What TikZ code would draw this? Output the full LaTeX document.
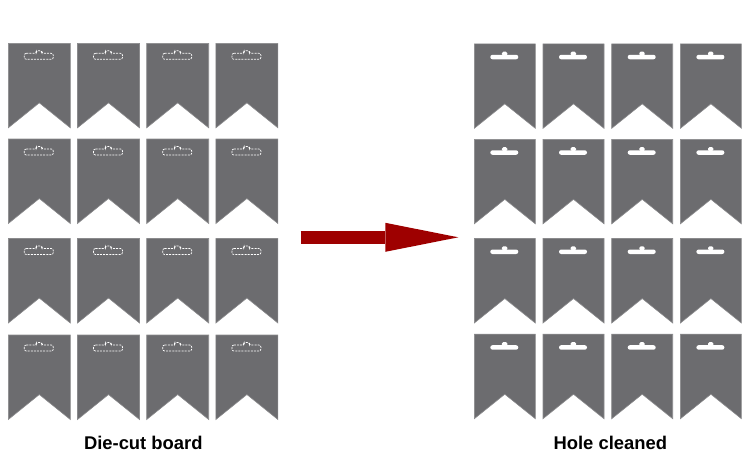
\documentclass[tikz,border=0pt]{standalone}
\usepackage{fontspec}
\setmainfont{Liberation Sans}
\usepackage{tikz}
\usetikzlibrary{arrows.meta}
\definecolor{cBlank}{HTML}{6C6C6F}
\definecolor{cEdge}{HTML}{8A8A8C}
\definecolor{cArrow}{HTML}{9E0000}
\tikzset{
  blankbody/.style={fill=cBlank,draw=cEdge,line width=0.6pt},
  cutslot/.style={draw=white,dashed,dash pattern=on 2pt off 1.1pt,line width=0.7pt,rounded corners=2pt},
  holefill/.style={fill=white},
  bigarr/.style={draw=cArrow,line width=13.3pt,-{Triangle[length=73pt,width=29pt,line width=0pt]}},
  lbl/.style={font=\fontsize{18.4}{22}\selectfont\bfseries,inner sep=0pt,anchor=base},
  dieblank/.pic={
    \path[blankbody] (0,0) -- (62,0) -- (62,84.5) -- (31,59.5) -- (0,84.5) -- cycle;
    \draw[cutslot] (16,10) -- (28,10) -- (28,7.5) -- (33.5,7.5) -- (33.5,10) -- (45,10) -- (45,16) -- (16,16) -- cycle;
  },
  cleanblank/.pic={
    \path[blankbody] (0,0) -- (61,0) -- (61,84.5) -- (30.5,60) -- (0,84.5) -- cycle;
    \fill[holefill,rounded corners=2.2pt] (16,11) rectangle (44,15.5);
    \fill[holefill,rounded corners=1.5pt] (27.6,7.8) rectangle (33,12);
  }}

\begin{document}
\begin{tikzpicture}[x=1pt,y=-1pt]
\useasboundingbox (0,0) rectangle (750,461);
% die-cut board, slots still in
\foreach \r [count=\j] in {43.3,139,238.5,335}
  \foreach \i in {0,...,3}
    \pic (cut\j\i) at ({8.3+69.2*\i},\r) {dieblank};
% cleaned board
\foreach \r [count=\j] in {43.8,139.3,238.5,334.2}
  \foreach \i in {0,...,3}
    \pic (clean\j\i) at ({474.3+68.7*\i},\r) {cleanblank};
\coordinate (src) at (300.7,237.3);
\coordinate (dst) at (458.3,237.3);
\draw[bigarr] (src) -- (dst);
\node[lbl] (cutlbl) at (143.3,449.3) {Die-cut board};
\node[lbl] (cleanlbl) at (610.3,449.3) {Hole cleaned};
\end{tikzpicture}
\end{document}
